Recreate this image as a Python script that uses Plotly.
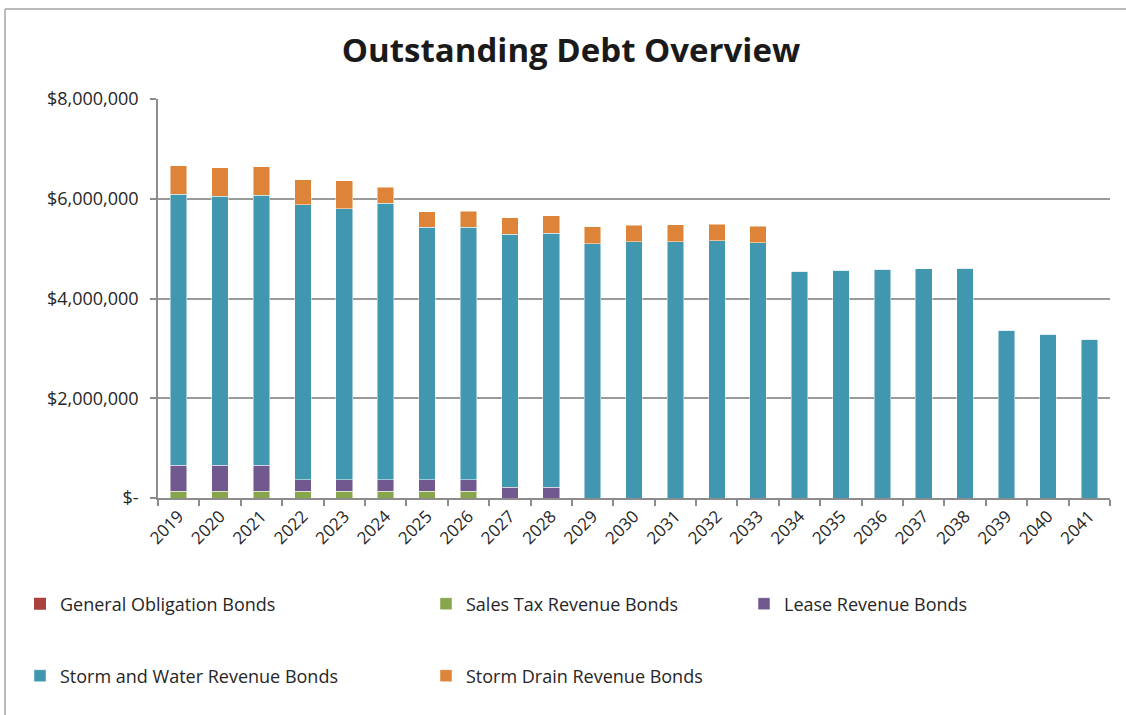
import plotly.graph_objects as go

years = [str(y) for y in range(2019, 2042)]

general_obligation = [0] * 23
sales_tax = [133000] * 8 + [0] * 15
lease = [527000, 527000, 527000, 233000, 233000, 233000, 233000, 233000,
         213000, 213000] + [0] * 13
storm_water = [5433000, 5393000, 5407000, 5513000, 5433000, 5547000, 5067000, 5060000,
               5080000, 5100000, 5093000, 5133000, 5133000, 5153000, 5120000,
               4547000, 4567000, 4587000, 4593000, 4607000, 3367000, 3280000, 3180000]
storm_drain = [567000, 567000, 573000, 507000, 567000, 313000, 307000, 320000,
               327000, 347000, 347000, 333000, 347000, 333000, 333000] + [0] * 8

# (name, values, colour, legend box)
series = [
    ("General Obligation Bonds", general_obligation, "#A9423F", "legend"),
    ("Sales Tax Revenue Bonds", sales_tax, "#87A54B", "legend"),
    ("Lease Revenue Bonds", lease, "#71588F", "legend3"),
    ("Storm and Water Revenue Bonds", storm_water, "#4297B0", "legend2"),
    ("Storm Drain Revenue Bonds", storm_drain, "#DD8439", "legend2"),
]

y_tickvals = [0, 2000000, 4000000, 6000000, 8000000]
y_ticktext = ["$-", "$2,000,000", "$4,000,000", "$6,000,000", "$8,000,000"]

FONT = "Open Sans"

fig = go.Figure()
for name, vals, color, lg in series:
    fig.add_trace(go.Bar(
        x=years, y=vals, name=name, legend=lg,
        marker=dict(color=color,
                    line=dict(color="rgba(255,255,255,0.6)",
                              width=0 if name == "General Obligation Bonds" else 0.8)),
        hovertemplate="%{x}: %{y:$,.0f}<extra>" + name + "</extra>",
    ))

# plot-area geometry in pixels, used to place items outside it
L, R, T, B = 158, 16, 99, 217
W, H = 1126 - L - R, 715 - T - B

def px_x(p):
    return (p - L) / W

def px_y(p):
    return (715 - B - p) / H

def legend_box(x_px, y_px, entry_w=361):
    return dict(orientation="h", x=px_x(x_px), xanchor="left", y=px_y(y_px),
                yanchor="middle", entrywidth=entry_w, entrywidthmode="pixels",
                font=dict(size=18), traceorder="normal", bgcolor="rgba(0,0,0,0)")

fig.update_layout(
    width=1126, height=715,
    margin=dict(l=L, r=R, t=T, b=B),
    paper_bgcolor="white", plot_bgcolor="white",
    barmode="stack", bargap=0.6,
    font=dict(family=FONT, color="#262626", size=16),
    title=dict(text="<b>Outstanding Debt Overview</b>", x=px_x(571), xanchor="center",
               xref="paper", y=1 - 50 / 715, yanchor="middle",
               font=dict(family=FONT, size=33, color="#1a1a1a")),
    xaxis=dict(type="category", tickson="boundaries", ticks="outside", ticklen=6,
               tickcolor="#8c8c8c", tickwidth=1.5, showline=True, linecolor="#8c8c8c",
               linewidth=1.5, tickangle=-45, tickfont=dict(size=17), showgrid=False),
    yaxis=dict(range=[0, 8000000], tickvals=y_tickvals, ticktext=y_ticktext,
               ticks="outside", ticklen=6, tickcolor="#8c8c8c", tickwidth=1.5,
               showline=True, linecolor="#8c8c8c", linewidth=1.5,
               showgrid=True, gridcolor="#9a9a9a", gridwidth=1.5,
               tickfont=dict(size=18), ticklabelstandoff=8, zeroline=False),
    legend=legend_box(20, 604),
    legend3=legend_box(744, 604, entry_w=250),
    legend2=legend_box(20, 676),
    shapes=[
        dict(type="line", xref="paper", yref="paper", x0=px_x(5), x1=px_x(1130),
             y0=px_y(9), y1=px_y(9), line=dict(color="#a6a6a6", width=1.5)),
        dict(type="line", xref="paper", yref="paper", x0=px_x(5), x1=px_x(5),
             y0=px_y(9), y1=px_y(720), line=dict(color="#a6a6a6", width=1.5)),
    ],
)

fig.write_html("out.html")
